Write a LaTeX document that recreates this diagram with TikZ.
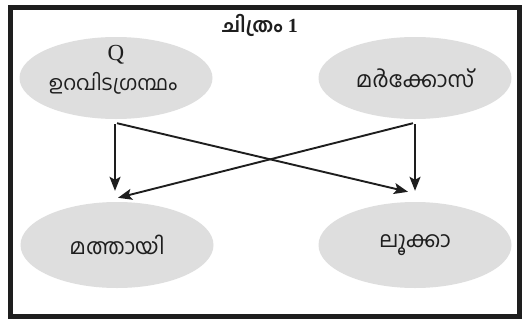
\documentclass[tikz,border=0pt]{standalone}
\usepackage{fontspec}
\newfontfamily\mlfont[Script=Malayalam]{Hind Kochi}
\newfontfamily\serif{Liberation Serif}
\usetikzlibrary{shapes.geometric,arrows.meta,calc}
\definecolor{ellgray}{RGB}{222,222,222}
\definecolor{inkc}{RGB}{30,30,30}
\tikzset{
  oval/.style={ellipse, fill=ellgray, draw=none, minimum width=193pt, minimum height=82pt, inner sep=0pt, font=\mlfont\fontsize{22}{24}\selectfont, text=inkc},
  txt/.style={inner sep=0pt, text=inkc},
  arr/.style={draw=inkc, line width=1.9pt, -{Stealth[length=14pt,width=11pt,inset=3pt]}}
}
\begin{document}
\begin{tikzpicture}[x=1pt,y=-1pt]
\useasboundingbox (0,0) rectangle (529,327);
\fill[white] (0,0) rectangle (529,327);
\node[draw=inkc, line width=4.5pt, minimum width=509pt, minimum height=309pt, inner sep=0pt] (frame) at (265,162) {};
\node[txt, font=\mlfont\bfseries\fontsize{20}{22}\selectfont] (title) at (260,25) {ചിത്രം {\serif\bfseries 1}};
\node[oval] (q) at (116,78) {};
\node[txt, font=\serif\fontsize{23}{25}\selectfont] (qq) at (116,55) {Q};
\node[txt, font=\mlfont\fontsize{20.5}{22}\selectfont] (qsrc) at (113,83) {ഉറവിടഗ്രന്ഥം};
\node[oval] (mk) at (415,78) {മർക്കോസ്};
\node[oval, minimum height=86pt] (mt) at (117,245) {മത്തായി};
\node[oval, minimum height=86pt] (lk) at (415,245) {ലൂക്കാ};
\draw[arr] ($(q.south)+(-1,5)$) -- ($(mt.north)+(-2,-11)$);
\draw[arr] ($(mk.south)+(0,5)$) -- ($(lk.north)+(0,-11)$);
\draw[arr] ($(q.south)+(1,4)$) -- ($(lk.north)+(-7,-10)$);
\draw[arr] ($(mk.south)+(-2,4)$) -- ($(mt.north)+(1,-4)$);
\end{tikzpicture}
\end{document}
